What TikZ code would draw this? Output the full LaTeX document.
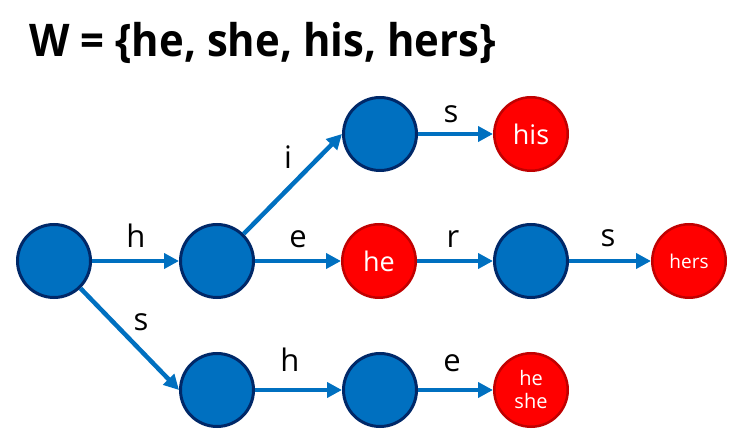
\documentclass[tikz,border=0pt]{standalone}
\usepackage{fontspec}
\setmainfont{Open Sans}
\newfontfamily\titlefont[FakeStretch=0.93]{Open Sans}
\usetikzlibrary{arrows.meta}
\definecolor{nodeblue}{RGB}{0,112,192}
\definecolor{navy}{RGB}{0,40,104}
\definecolor{nodered}{RGB}{255,0,0}
\definecolor{darkred}{RGB}{192,0,0}
\tikzset{
  bstate/.style={circle, draw=navy, line width=3pt, fill=nodeblue, minimum size=73pt, inner sep=0pt},
  rstate/.style={circle, draw=darkred, line width=2.5pt, fill=nodered, minimum size=73.5pt, inner sep=0pt, text=white, align=center},
  arr/.style={draw=nodeblue, line width=4.5pt, -{Triangle[length=15pt,width=15pt]}},
  lbl/.style={anchor=base, inner sep=0pt, font=\fontsize{31}{36}\selectfont},
}
\begin{document}
\begin{tikzpicture}[x=1pt,y=-1pt]
\useasboundingbox (0,0) rectangle (729,430);
\node[anchor=base west, inner sep=0pt, font=\titlefont\bfseries\fontsize{45}{54}\selectfont] (title) at (29,57) {W = \{he, she, his, hers\}};
% states
\node[bstate] (root) at (54,261) {};
\node[bstate] (h) at (217,261) {};
\node[bstate] (hi) at (380,134) {};
\node[rstate, font=\fontsize{27}{30}\selectfont] (his) at (531,134) {his};
\node[rstate, font=\fontsize{27}{30}\selectfont] (he) at (379,261) {he};
\node[bstate] (her) at (531,261) {};
\node[rstate, font=\fontsize{19}{22}\selectfont] (hers) at (689,261) {hers};
\node[bstate] (s) at (217,390) {};
\node[bstate] (sh) at (380,390) {};
\node[rstate, font=\fontsize{20}{23}\selectfont] (she) at (531,390) {he\\she};
% edges
\draw[arr] (root) -- (h);
\draw[arr] (h) -- (hi.west);
\draw[arr] (hi) -- (his);
\draw[arr] (h) -- (he);
\draw[arr] (he) -- (her);
\draw[arr] (her) -- (hers);
\draw[arr] (root) -- (s.west);
\draw[arr] (s) -- (sh);
\draw[arr] (sh) -- (she);
% labels
\node[lbl] (l1) at (136,248) {h};
\node[lbl] (l2) at (288,169) {i};
\node[lbl] (l3) at (451,123) {s};
\node[lbl] (l4) at (298,248) {e};
\node[lbl] (l5) at (453,248) {r};
\node[lbl] (l6) at (608,247) {s};
\node[lbl] (l7) at (141,331) {s};
\node[lbl] (l8) at (290,372) {h};
\node[lbl] (l9) at (452,372) {e};
\end{tikzpicture}
\end{document}
